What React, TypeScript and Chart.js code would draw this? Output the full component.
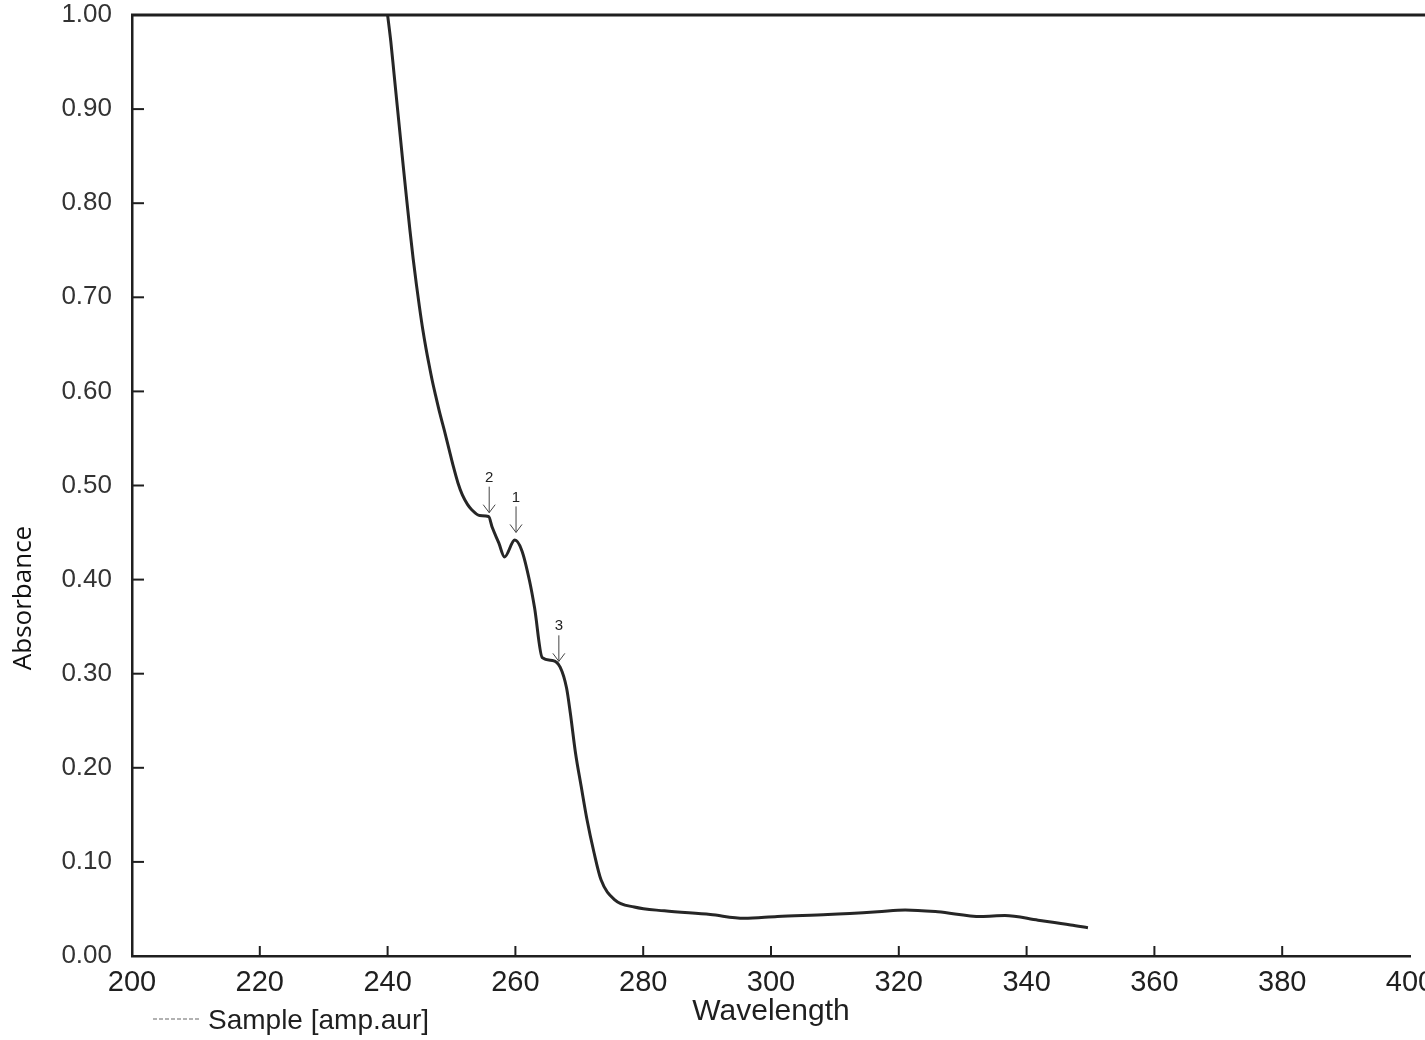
import React, { useEffect, useRef } from "react";
import { Chart, registerables } from "chart.js";

Chart.register(...registerables);

// ---- data ----
const wavelength = [
  240.0, 240.5, 241.0, 241.5, 242.0, 242.5, 243.0, 243.5, 244.0, 244.5,
  245.0, 245.5, 246.0, 246.5, 247.0, 247.5, 248.2, 248.9, 249.6, 250.3,
  251.0, 251.7, 252.5, 253.2, 254.4, 255.8, 256.4, 257.4, 258.3, 259.9,
  261.0, 262.2, 263.0, 264.2, 265.8, 267.0, 268.0, 268.6, 269.4, 270.3,
  271.2, 272.3, 273.4, 275.5, 278.6, 283.3, 290.5, 295.8, 301.0, 308.9,
  316.7, 321.0, 326.1, 332.9, 336.6, 341.8, 346.9, 349.6,
];
const absorbance = [
  1.0, 0.972, 0.938, 0.904, 0.87, 0.836, 0.803, 0.771, 0.741, 0.714,
  0.689, 0.666, 0.646, 0.628, 0.611, 0.596, 0.576, 0.558, 0.539, 0.52,
  0.503, 0.49, 0.48, 0.474, 0.468, 0.467, 0.455, 0.439, 0.424, 0.442,
  0.431, 0.399, 0.37, 0.317, 0.314, 0.307, 0.285, 0.258, 0.216, 0.18,
  0.145, 0.11, 0.081, 0.06, 0.052, 0.048, 0.044, 0.04, 0.042, 0.044,
  0.047, 0.049, 0.047, 0.042, 0.043, 0.038, 0.033, 0.03,
];
const xTickValues = [200, 220, 240, 260, 280, 300, 320, 340, 360, 380, 400];
const yTickValues = [0, 0.1, 0.2, 0.3, 0.4, 0.5, 0.6, 0.7, 0.8, 0.9, 1.0];
const peakLabels = ["1", "2", "3"];
const peakWavelength = [260.1, 255.9, 266.8];
const peakAbsorbance = [0.448, 0.469, 0.311];
const seriesLabel = "Sample [amp.aur]";
const xTitle = "Wavelength";
const yTitle = "Absorbance";

// ---- layout ----
const W = 1450;
const H = 1040;
const AREA = { left: 132, top: 15, right: 1410, bottom: 956 };
const INK = "#1f1f1f";

const decorPlugin = {
  id: "decor",
  afterDraw(chart: any) {
    const { ctx, chartArea, scales } = chart;
    const xs = scales.x;
    const ys = scales.y;
    ctx.save();
    // top border
    ctx.strokeStyle = INK;
    ctx.lineWidth = 3;
    ctx.beginPath();
    ctx.moveTo(chartArea.left - 1, chartArea.top);
    ctx.lineTo(chartArea.right + 20, chartArea.top);
    ctx.stroke();
    // inner tick marks
    ctx.lineWidth = 2;
    yTickValues.forEach((v) => {
      if (v <= 0 || v >= 1) return;
      const py = ys.getPixelForValue(v);
      ctx.beginPath();
      ctx.moveTo(chartArea.left, py);
      ctx.lineTo(chartArea.left + 12, py);
      ctx.stroke();
    });
    xTickValues.forEach((v) => {
      if (v <= 200 || v >= 400) return;
      const px = xs.getPixelForValue(v);
      ctx.beginPath();
      ctx.moveTo(px, chartArea.bottom);
      ctx.lineTo(px, chartArea.bottom - 10);
      ctx.stroke();
    });
    // peak arrows
    ctx.strokeStyle = "#444";
    ctx.fillStyle = "#222";
    ctx.lineWidth = 1;
    ctx.font = "15px 'Liberation Sans'";
    ctx.textAlign = "center";
    ctx.textBaseline = "middle";
    peakLabels.forEach((lab, i) => {
      const px = xs.getPixelForValue(peakWavelength[i]);
      const py = ys.getPixelForValue(peakAbsorbance[i]);
      ctx.beginPath();
      ctx.moveTo(px, py - 28);
      ctx.lineTo(px, py - 2);
      ctx.moveTo(px - 6, py - 10);
      ctx.lineTo(px, py - 2);
      ctx.lineTo(px + 6, py - 10);
      ctx.stroke();
      ctx.fillText(lab, px, py - 37);
    });
    // y-axis title
    ctx.save();
    ctx.translate(24, 598);
    ctx.rotate(-Math.PI / 2);
    ctx.font = "26px 'Open Sans'";
    ctx.fillStyle = "#111";
    ctx.textAlign = "center";
    ctx.textBaseline = "middle";
    ctx.fillText(yTitle, 0, 0);
    ctx.restore();
    // legend
    ctx.strokeStyle = "#666";
    ctx.lineWidth = 1.2;
    ctx.setLineDash([4, 2]);
    ctx.beginPath();
    ctx.moveTo(153, 1019);
    ctx.lineTo(199, 1019);
    ctx.stroke();
    ctx.setLineDash([]);
    ctx.font = "28px 'Liberation Sans'";
    ctx.fillStyle = INK;
    ctx.textAlign = "left";
    ctx.textBaseline = "middle";
    ctx.fillText(seriesLabel, 208, 1021);
    ctx.restore();
  },
};

export default function App() {
  const ref = useRef<HTMLCanvasElement | null>(null);

  useEffect(() => {
    if (!ref.current) return;
    const chart = new Chart(ref.current, {
      type: "line",
      data: {
        datasets: [
          {
            label: seriesLabel,
            data: wavelength.map((x, i) => ({ x, y: absorbance[i] })),
            borderColor: "#262626",
            borderWidth: 3,
            pointRadius: 0,
            fill: false,
            cubicInterpolationMode: "monotone",
          },
        ],
      },
      options: {
        animation: false,
        responsive: false,
        devicePixelRatio: 1,
        layout: {
          padding: { left: 0, top: AREA.top, right: W - AREA.right, bottom: 0 },
        },
        plugins: {
          legend: { display: false },
          tooltip: { enabled: false },
        },
        scales: {
          x: {
            type: "linear",
            min: 200,
            max: 400,
            afterBuildTicks: (s: any) => {
              s.ticks = xTickValues.map((v) => ({ value: v }));
            },
            ticks: {
              autoSkip: false,
              maxRotation: 0,
              padding: 10,
              color: INK,
              font: { family: "'Liberation Sans'", size: 29 },
              callback: (v: any) => String(v),
            },
            grid: { display: false, drawTicks: false },
            border: { display: true, color: INK, width: 2.5 },
            title: {
              display: true,
              text: xTitle,
              color: INK,
              font: { family: "'Liberation Sans'", size: 30 },
              padding: { top: 0, bottom: 10 },
            },
            afterFit: (s: any) => {
              s.height = H - AREA.bottom;
              s.paddingLeft = 0;
              s.paddingRight = 0;
            },
          },
          y: {
            type: "linear",
            min: 0,
            max: 1,
            afterBuildTicks: (s: any) => {
              s.ticks = yTickValues.map((v) => ({ value: v }));
            },
            ticks: {
              autoSkip: false,
              padding: 20,
              color: "#333",
              font: { family: "'Liberation Sans'", size: 26 },
              callback: (v: any) => Number(v).toFixed(2),
            },
            grid: { display: false, drawTicks: false },
            border: { display: true, color: INK, width: 2.5 },
            afterFit: (s: any) => {
              s.width = AREA.left;
              s.paddingTop = 0;
              s.paddingBottom = 0;
            },
          },
        },
      } as any,
      plugins: [decorPlugin],
    });
    return () => chart.destroy();
  }, []);

  return (
    <div
      style={{
        position: "fixed",
        left: 0,
        top: 0,
        width: 1425,
        height: H,
        overflow: "hidden",
        background: "#fff",
      }}
    >
      <canvas
        ref={ref}
        width={W}
        height={H}
        style={{ display: "block", width: W, height: H }}
      />
    </div>
  );
}
